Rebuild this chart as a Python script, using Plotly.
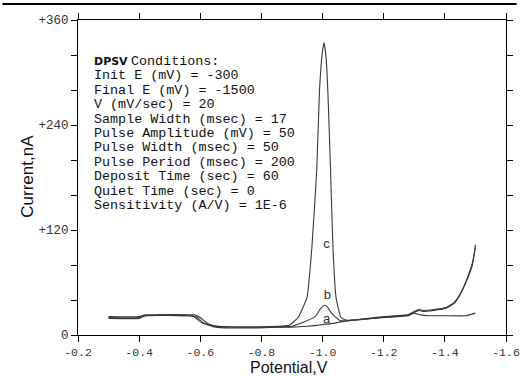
import plotly.graph_objects as go

# ---- data ----
pot_c = [-0.30, -0.40, -0.42, -0.56, -0.58, -0.60, -0.62, -0.65, -0.75, -0.85, -0.89, -0.92,
         -0.949, -0.965, -0.981, -0.990, -1.000, -1.005, -1.012, -1.018, -1.026, -1.034, -1.044,
         -1.060, -1.076, -1.10, -1.20, -1.28, -1.30, -1.315, -1.33, -1.40, -1.43, -1.45, -1.47,
         -1.49, -1.50]
cur_c = [20, 20, 22, 22, 21, 15, 12, 10, 9, 10, 11, 20,
         43, 100, 189, 280, 325, 334, 315, 272, 189, 100, 43,
         20, 17, 17, 20, 23, 27, 29, 28, 31, 37, 47, 62,
         82, 100]

pot_b = [-0.30, -0.40, -0.42, -0.57, -0.59, -0.61, -0.63, -0.65, -0.75, -0.85, -0.90, -0.933,
         -0.976, -0.995, -1.007, -1.018, -1.029, -1.055, -1.073, -1.10, -1.20, -1.28, -1.30,
         -1.315, -1.33, -1.40, -1.43, -1.45, -1.47, -1.49, -1.50]
cur_b = [19, 19, 22, 22, 20, 14, 11, 9, 8, 9, 10, 14,
         21, 31, 34, 31, 25, 17, 16, 17, 21, 23, 26,
         28, 27, 30, 36, 46, 61, 80, 103]

pot_a = [-0.30, -0.40, -0.42, -0.58, -0.60, -0.62, -0.64, -0.66, -0.75, -0.85, -0.90, -0.95,
         -0.98, -1.00, -1.03, -1.06, -1.10, -1.20, -1.28, -1.30, -1.32, -1.35, -1.40, -1.47,
         -1.50]
cur_a = [21, 21, 23, 23, 20, 14, 11, 10, 9, 9, 9, 10,
         11, 12, 13, 15, 17, 20, 22, 25, 23, 22, 22, 22,
         25]

label_text = ["a", "b", "c"]
label_pot = [-1.013, -1.016, -1.013]
label_cur = [18, 45, 103]

x_ticks = [-0.2, -0.4, -0.6, -0.8, -1.0, -1.2, -1.4, -1.6]
x_tick_text = ["-0.2", "-0.4", "-0.6", "-0.8", "-1.0", "-1.2", "-1.4", "-1.6"]
y_ticks = [0, 40, 80, 120, 160, 200, 240, 280, 320, 360]
y_tick_text = ["0", "", "", "+120", "", "", "+240", "", "", "+360"]

conditions = [
    "Init E (mV) = -300",
    "Final E (mV) = -1500",
    "V (mV/sec) = 20",
    "Sample Width (msec) = 17",
    "Pulse Amplitude (mV) = 50",
    "Pulse Width (msec) = 50",
    "Pulse Period (msec) = 200",
    "Deposit Time (sec) = 60",
    "Quiet Time (sec) = 0",
    "Sensitivity (A/V) = 1E-6",
]

# ---- layout geometry (pixels) ----
W, H = 531, 376
ML, MR, MT, MB = 78, 11, 20, 41
PW, PH = W - ML - MR, H - MT - MB


def px(x):
    return (x - ML) / PW


def py(y):
    return (H - MB - y) / PH


line_col = "#383838"
fig = go.Figure()
for p, c in ((pot_a, cur_a), (pot_b, cur_b), (pot_c, cur_c)):
    fig.add_trace(go.Scatter(x=p, y=c, mode="lines",
                             line=dict(color=line_col, width=1.1, shape="spline", smoothing=0.4),
                             showlegend=False, hoverinfo="skip"))

fig.add_trace(go.Scatter(x=label_pot, y=label_cur, mode="text", text=label_text,
                         textfont=dict(family="Liberation Sans", size=13, color="#333"),
                         showlegend=False, hoverinfo="skip"))

annotations = []
mono = "Liberation Mono"
y0, dy = 61.5, 14.4
annotations.append(dict(xref="paper", yref="paper", x=px(92), y=py(y0), xanchor="left",
                        yanchor="middle", text="<b>DPSV</b>", showarrow=False,
                        font=dict(family="DejaVu Sans", size=11, color="#111")))
annotations.append(dict(xref="paper", yref="paper", x=px(131), y=py(y0), xanchor="left",
                        yanchor="middle", text="Conditions:", showarrow=False,
                        font=dict(family=mono, size=13.4, color="#111")))
for i, t in enumerate(conditions):
    annotations.append(dict(xref="paper", yref="paper", x=px(92), y=py(y0 + dy * (i + 1)),
                            xanchor="left", yanchor="middle", text=t, showarrow=False,
                            font=dict(family=mono, size=13.4, color="#111")))

annotations.append(dict(xref="paper", yref="paper", x=px(25), y=py(176), xanchor="center",
                        yanchor="middle", text="Current,nA", textangle=-90, showarrow=False,
                        font=dict(family="Liberation Sans", size=17, color="#111")))
annotations.append(dict(xref="paper", yref="paper", x=px(296), y=py(367), xanchor="center",
                        yanchor="middle", text="Potential,V", showarrow=False,
                        font=dict(family="Liberation Sans", size=16, color="#111")))

axis_common = dict(showline=True, linecolor="black", linewidth=1, mirror="ticks",
                   ticks="outside", ticklen=6, tickcolor="black", tickwidth=1,
                   showgrid=False, zeroline=False)

fig.update_layout(
    width=W, height=H,
    margin=dict(l=ML, r=MR, t=MT, b=MB),
    paper_bgcolor="white", plot_bgcolor="white",
    xaxis=dict(range=[-0.2, -1.6], tickmode="array", tickvals=x_ticks, ticktext=x_tick_text,
               tickfont=dict(family=mono, size=11.5, color="#333"), **axis_common),
    yaxis=dict(range=[0, 360], tickmode="array", tickvals=y_ticks, ticktext=y_tick_text,
               tickfont=dict(family=mono, size=12.5, color="#333"), **axis_common),
    annotations=annotations,
    shapes=[dict(type="line", xref="paper", yref="paper", x0=px(0), x1=px(W),
                 y0=py(4), y1=py(4), line=dict(color="black", width=2))],
)

fig.write_html("out.html")
